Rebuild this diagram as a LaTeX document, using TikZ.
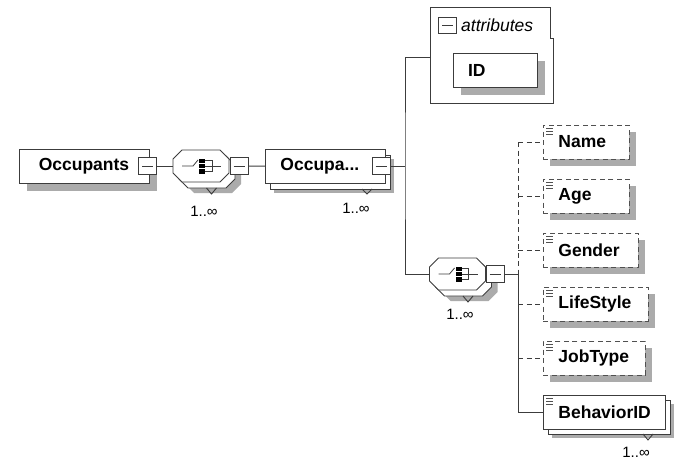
\documentclass[tikz,border=0pt]{standalone}
\usepackage{fontspec}
\setmainfont{Liberation Sans}
\usetikzlibrary{shadows}
\definecolor{lc}{HTML}{3C3C3C}
\definecolor{shc}{HTML}{ABABAB}
\definecolor{dc}{HTML}{505050}
% octagon path: #1 = options, #2 = cx, #3 = cy
\newcommand\octo[3]{\path[#1] (#2-19,#3-16) -- (#2+19,#3-16) -- (#2+28,#3-7) -- (#2+28,#3+7) -- (#2+19,#3+16) -- (#2-19,#3+16) -- (#2-28,#3+7) -- (#2-28,#3-7) -- cycle;}
% sequence compositor: #1 = cx, #2 = cy
\newcommand\seqcomp[2]{%
  \octo{fill=shc}{#1+12}{#2+11}
  \octo{draw=lc,line width=0.9pt,fill=white}{#1+6}{#2+6}
  \draw[lc,line width=0.9pt] (#1+5.5,#2+22) -- (#1+10.5,#2+28) -- (#1+15.5,#2+22);
  \octo{draw=lc,line width=0.9pt,fill=white}{#1}{#2}
  \draw[lc,line width=0.8pt] (#1-19,#2) -- (#1-8,#2) -- (#1-3,#2-6);
  \fill[black] (#1-2,#2-7.5) rectangle (#1+4,#2-3);
  \fill[black] (#1-2,#2-2.2) rectangle (#1+4,#2+2.2);
  \fill[black] (#1-2,#2+3) rectangle (#1+4,#2+7.5);
  \draw[lc,line width=0.8pt] (#1+4,#2-5.5) -- (#1+11,#2-5.5) -- (#1+11,#2+5.5) -- (#1+4,#2+5.5);
  \draw[lc,line width=0.8pt] (#1+4,#2) -- (#1+20,#2);
}
\newcommand\elicon[1]{%
  \foreach \k in {3.5,6.5,9.5}{\draw[dc,line width=0.7pt] ([shift={(3,\k)}]#1.north west) -- ++(7,0);}
}
\begin{document}
\begin{tikzpicture}[x=1pt,y=-1pt,
  lw/.style={line width=0.9pt},
  conn/.style={draw=lc, lw},
  dconn/.style={draw=lc, lw, dash pattern=on 5pt off 3.5pt},
  sh/.style={drop shadow={shadow xshift=#1, shadow yshift=-#1, fill=shc, opacity=1}},
  sh/.default=8pt,
  elbox/.style={draw=lc, lw, fill=white, minimum height=34pt, inner ysep=0pt,
    font=\bfseries\fontsize{17.5}{20}\selectfont},
  leftbox/.style={elbox, inner xsep=15pt, text width=#1, align=left},
  optbox/.style={leftbox=#1, dash pattern=on 5pt off 3.5pt, draw=dc},
  sq/.style={draw=lc, lw, fill=white, minimum width=18pt, minimum height=17pt, inner sep=0pt,
    path picture={\draw[lc, line width=0.8pt] ([xshift=3.5pt]path picture bounding box.west) -- ([xshift=-3.5pt]path picture bounding box.east);}},
  mult/.style={font=\fontsize{15}{17}\selectfont, inner sep=0pt},
]
\useasboundingbox (0,0) rectangle (686,460);

% Occupants
\node[elbox, sh, minimum width=130pt] (occ) at (84,166) {Occupants};
\node[sq] (s1) at (147.5,166) {};

% first sequence
\seqcomp{201}{166}
\coordinate (c1w) at (173,166);
\coordinate (c1e) at (229,166);
\node[sq] (s2) at (239,166) {};
\node[mult] (m1) at (204,211) {1..∞};

% Occupant (multiple)
\fill[shc] (274,158.5) rectangle (394,192.5);
\draw[lw, draw=lc, fill=white] (270,155) rectangle (390,189);
\draw[lc, lw] (362,189) -- (367,194) -- (372,189);
\node[leftbox=90pt, anchor=west] (occa) at (265,166.5) {Occupa...};
\node[sq] (s3) at (381,166) {};
\node[mult] (m2) at (356,208) {1..∞};
\coordinate (j1) at (405,166);

% attributes
\path[draw=lc, lw, fill=white] (430,7) -- (550,7) -- (550,38) -- (553,38) -- (553,103) -- (430,103) -- cycle;
\node[sq, minimum height=16pt] (sa) at (447.5,25.5) {};
\node[anchor=west, font=\itshape\fontsize{17.5}{20}\selectfont, inner sep=0pt] (attrt) at (461,25.5) {attributes};
\node[leftbox=54pt, sh] (id) at (495,70.5) {ID};
\coordinate (attrw) at (430,57);

% second sequence
\seqcomp{457.5}{274}
\coordinate (c2w) at (429.5,274);
\node[sq] (s4) at (495,274) {};
\node[mult] (m3) at (460,314) {1..∞};
\coordinate (j2) at (518,274);

% children
\node[optbox=56pt, sh=7pt, anchor=west] (name) at (543,142) {Name};
\node[optbox=56pt, sh=7pt, anchor=west] (age) at (543,196) {Age};
\node[optbox=65pt, sh=7pt, anchor=west] (gender) at (543,250) {Gender};
\node[optbox=75pt, sh=7pt, anchor=west] (life) at (543,304) {LifeStyle};
\node[optbox=72pt, sh=7pt, anchor=west] (job) at (543,358) {JobType};

\fill[shc] (552,404) rectangle (674,438);
\draw[lw, draw=lc, fill=white] (548,400) rectangle (670,434);
\draw[lc, lw] (643,434) -- (648,440) -- (653,434);
\node[leftbox=92pt, anchor=west] (beh) at (543,412) {BehaviorID};
\node[mult] (m4) at (636,452) {1..∞};

\elicon{name}\elicon{age}\elicon{gender}\elicon{life}\elicon{job}\elicon{beh}

% connectors
\draw[conn] (s1) -- (c1w);
\draw[conn] (s2) -- (occa);
\draw[conn] (s3) -- (j1);
\draw[conn] (attrw) -| (j1) |- (c2w);
\draw[conn] (s4) -- (j2);
\draw[dconn] (j2 |- name.west) -- (j2);
\foreach \c in {name,age,gender,life,job}{\draw[dconn] (j2 |- \c.west) -- (\c.west);}
\draw[conn] (j2) |- (beh.west);
\end{tikzpicture}
\end{document}
